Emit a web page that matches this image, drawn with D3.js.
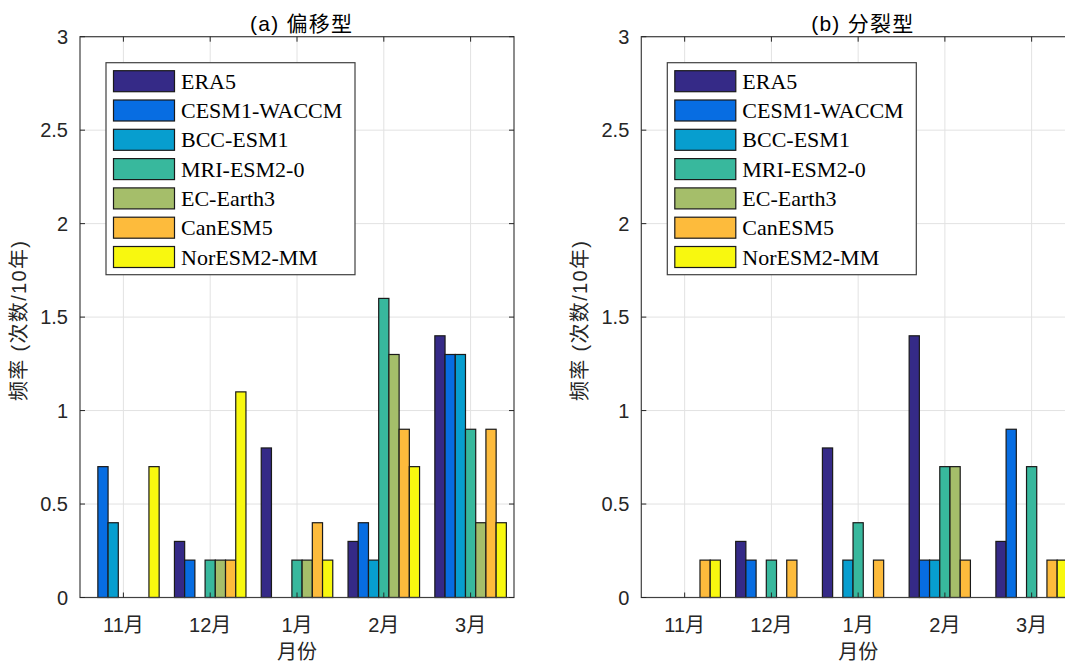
<!DOCTYPE html>
<html>
<head>
<meta charset="utf-8">
<script src="https://cdn.jsdelivr.net/npm/d3@7"></script>
<style>
body { margin: 0; background: #fff; overflow: hidden; }
svg { display: block; }
</style>
</head>
<body>
<div id="chart"></div>
<script>
// months on x, models in each group
var months = ["11月", "12月", "1月", "2月", "3月"];
var models = ["ERA5", "CESM1-WACCM", "BCC-ESM1", "MRI-ESM2-0", "EC-Earth3", "CanESM5", "NorESM2-MM"];
var colors = ["#352a87", "#076de2", "#079ecf", "#38b89d", "#a5be6a", "#fdbb3c", "#f8f80f"];
var yTicks = [0, 0.5, 1, 1.5, 2, 2.5, 3];

// (a) 偏移型, one row per month, one value per model
var shiftVals = [
	[0, 0.7, 0.4, 0, 0, 0, 0.7],
	[0.3, 0.2, 0, 0.2, 0.2, 0.2, 1.1],
	[0.8, 0, 0, 0.2, 0.2, 0.4, 0.2],
	[0.3, 0.4, 0.2, 1.6, 1.3, 0.9, 0.7],
	[1.4, 1.3, 1.3, 0.9, 0.4, 0.9, 0.4]
];
// (b) 分裂型
var splitVals = [
	[0, 0, 0, 0, 0, 0.2, 0.2],
	[0.3, 0.2, 0, 0.2, 0, 0.2, 0],
	[0.8, 0, 0.2, 0.4, 0, 0.2, 0],
	[1.4, 0.2, 0.2, 0.7, 0.7, 0.2, 0],
	[0.3, 0.9, 0, 0.7, 0, 0.2, 0.2]
];

var W = 1065, H = 665;
var yTop = 36.7, yBot = 597.5;
var sans = "'Liberation Sans', Arial, 'Noto Sans CJK SC', sans-serif";
var serif = "'Liberation Serif', 'Times New Roman', serif";

var svg = d3.select("#chart").append("svg")
	.attr("width", W)
	.attr("height", H);

function panel(x0, x1, vals, title) {
	var g = svg.append("g");

	var xscale = d3.scaleBand().domain(months).range([x0, x1]).padding(0);
	var bw = xscale.bandwidth();
	var sub = d3.scaleBand().domain(models).range([0, bw * 0.824]).padding(0);
	var yscale = d3.scaleLinear().domain([0, 3]).range([yBot, yTop]);

	// grid
	g.selectAll(".gx").data(months).enter().append("line")
		.attr("x1", function(d){return xscale(d) + bw / 2})
		.attr("x2", function(d){return xscale(d) + bw / 2})
		.attr("y1", yTop).attr("y2", yBot)
		.style("stroke", "#e2e2e2").style("stroke-width", 1);
	g.selectAll(".gy").data(yTicks).enter().append("line")
		.attr("x1", x0).attr("x2", x1)
		.attr("y1", function(d){return yscale(d)})
		.attr("y2", function(d){return yscale(d)})
		.style("stroke", "#e2e2e2").style("stroke-width", 1);

	// bars
	var groups = g.selectAll(".grp").data(vals).enter().append("g")
		.attr("transform", function(d, i){
			return "translate(" + (xscale(months[i]) + bw / 2 - bw * 0.824 / 2) + ",0)";
		});
	groups.selectAll("rect")
		.data(function(d){
			return d.map(function(v, j){return {m: models[j], v: v, c: colors[j]}}).filter(function(e){return e.v > 0});
		})
		.enter().append("rect")
		.attr("x", function(d){return sub(d.m)})
		.attr("width", sub.bandwidth())
		.attr("y", function(d){return yscale(d.v)})
		.attr("height", function(d){return yBot - yscale(d.v)})
		.style("fill", function(d){return d.c})
		.style("stroke", "#1a1a1a")
		.style("stroke-width", 1.2);

	// box + ticks
	g.append("rect")
		.attr("x", x0).attr("y", yTop)
		.attr("width", x1 - x0).attr("height", yBot - yTop)
		.style("fill", "none").style("stroke", "#404040").style("stroke-width", 1.2);

	var tl = 5;
	months.forEach(function(m){
		var cx = xscale(m) + bw / 2;
		g.append("line").attr("x1", cx).attr("x2", cx).attr("y1", yBot).attr("y2", yBot - tl)
			.style("stroke", "#262626");
		g.append("line").attr("x1", cx).attr("x2", cx).attr("y1", yTop).attr("y2", yTop + tl)
			.style("stroke", "#262626");
		g.append("text")
			.attr("x", cx).attr("y", 632)
			.style("text-anchor", "middle")
			.style("font-family", sans).style("font-size", "20px").style("fill", "#262626")
			.text(m);
	});
	yTicks.forEach(function(t){
		var y = yscale(t);
		g.append("line").attr("x1", x0).attr("x2", x0 + tl).attr("y1", y).attr("y2", y)
			.style("stroke", "#262626");
		g.append("line").attr("x1", x1).attr("x2", x1 - tl).attr("y1", y).attr("y2", y)
			.style("stroke", "#262626");
		g.append("text")
			.attr("x", x0 - 12).attr("y", y + 7)
			.style("text-anchor", "end")
			.style("font-family", sans).style("font-size", "20px").style("fill", "#262626")
			.text(t);
	});

	var mid = (x0 + x1) / 2;
	g.append("text")
		.attr("x", mid + 4).attr("y", 31)
		.style("text-anchor", "middle")
		.style("font-family", sans).style("font-size", "21px").style("fill", "#000")
		.attr("textLength", 102).attr("lengthAdjust", "spacing")
		.text(title);
	g.append("text")
		.attr("x", mid).attr("y", 659)
		.style("text-anchor", "middle")
		.style("font-family", sans).style("font-size", "20px").style("fill", "#262626")
		.text("月份");
	g.append("text")
		.attr("transform", "translate(" + (x0 - 54) + "," + 321 + ") rotate(-90)")
		.style("text-anchor", "middle")
		.style("font-family", sans).style("font-size", "20px").style("fill", "#262626")
		.attr("textLength", 160).attr("lengthAdjust", "spacing")
		.text("频率 (次数/10年)");

	// legend
	var lx = x0 + 26, ly = 62.7;
	var leg = g.append("g");
	leg.append("rect")
		.attr("x", lx).attr("y", ly).attr("width", 249).attr("height", 212)
		.style("fill", "#fff").style("stroke", "#404040").style("stroke-width", 1.2);
	models.forEach(function(m, i){
		var ry = ly + 8 + i * 29.3;
		leg.append("rect")
			.attr("x", lx + 7.5).attr("y", ry).attr("width", 61).attr("height", 21)
			.style("fill", colors[i]).style("stroke", "#1a1a1a").style("stroke-width", 1.2);
		leg.append("text")
			.attr("x", lx + 75).attr("y", ry + 18)
			.style("font-family", serif).style("font-size", "22px").style("fill", "#000")
			.text(m);
	});
}

panel(80, 514, shiftVals, "(a) 偏移型");
panel(641.3, 1075, splitVals, "(b) 分裂型");
</script>
</body>
</html>
